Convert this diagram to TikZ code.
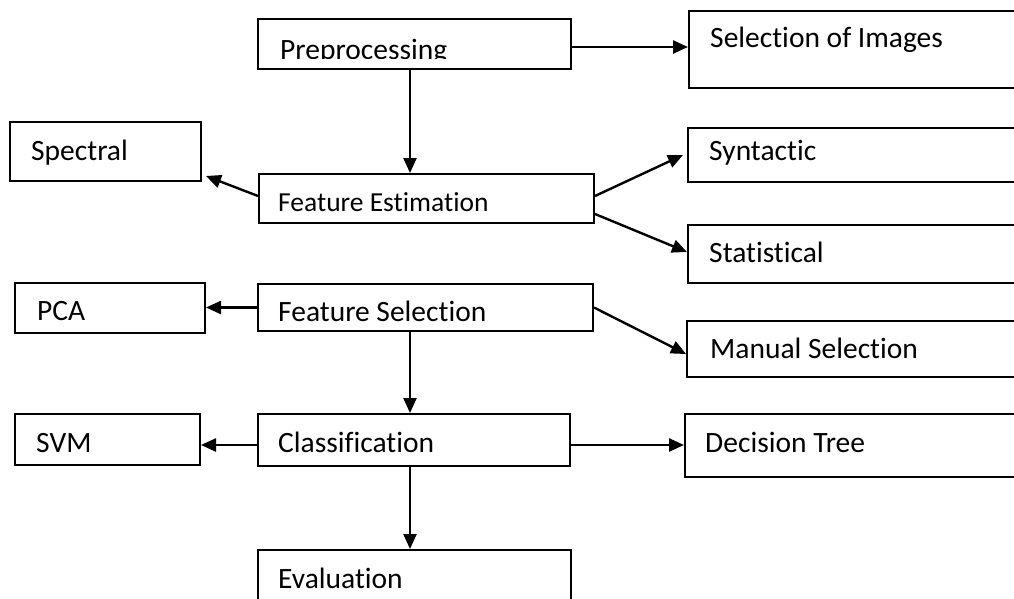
\documentclass[tikz,border=0pt]{standalone}
\usepackage{fontspec}
\setmainfont{Carlito}[RawFeature={-liga;-clig;-calt;-dlig}]
\usetikzlibrary{arrows.meta}
\tikzset{
  box/.style={draw=black, line width=2pt, rectangle, inner sep=0pt, anchor=north west},
  lbl/.style={anchor=base west, inner sep=0pt, font=\fontsize{29.5}{34}\selectfont},
  lblsmall/.style={anchor=base west, inner sep=0pt, font=\fontsize{27.5}{32}\selectfont},
  arr/.style={line width=2.4pt, -{Triangle[length=15pt,width=13pt]}}
}
\begin{document}
\begin{tikzpicture}[x=1pt, y=-1pt]
\clip (0,0) rectangle (1014,599);
\fill[white] (0,0) rectangle (1014,599);
% boxes
\node[box, minimum width=313pt, minimum height=50pt] (pre) at (257,18) {};
\node[box, minimum width=330pt, minimum height=77pt] (sel) at (688,10) {};
\node[box, minimum width=191pt, minimum height=59pt] (spec) at (9,121) {};
\node[box, minimum width=335pt, minimum height=49pt] (fe) at (258,173) {};
\node[box, minimum width=330pt, minimum height=54pt] (syn) at (687,127) {};
\node[box, minimum width=330pt, minimum height=58pt] (stat) at (687,224) {};
\node[box, minimum width=190pt, minimum height=50pt] (pca) at (14,282) {};
\node[box, minimum width=335pt, minimum height=47pt] (fs) at (257,283) {};
\node[box, minimum width=331pt, minimum height=56pt] (man) at (686,320) {};
\node[box, minimum width=185pt, minimum height=51pt] (svm) at (14,413) {};
\node[box, minimum width=312pt, minimum height=52pt] (cls) at (257,413) {};
\node[box, minimum width=333pt, minimum height=63pt] (dt) at (684,413) {};
\node[box, minimum width=313pt, minimum height=60pt] (ev) at (257,549) {};
% texts
\begin{scope}
\clip (257,18) rectangle (570,58.5);
\node[lbl] (tpre) at (280,59.5) {Preprocessing};
\end{scope}
\node[lbl] (tsel) at (710,48) {Selection of Images};
\node[lbl] (tspec) at (31,160) {Spectral};
\node[lblsmall] (tfe) at (278,211) {Feature Estimation};
\node[lbl] (tsyn) at (709,160) {Syntactic};
\node[lbl] (tstat) at (709,262) {Statistical};
\node[lbl] (tpca) at (37,320) {PCA};
\node[lbl] (tfs) at (278,321) {Feature Selection};
\node[lbl] (tman) at (710,358) {Manual Selection};
\node[lbl] (tsvm) at (36,452) {SVM};
\node[lbl] (tcls) at (278,452) {Classification};
\node[lbl] (tdt) at (705,452) {Decision Tree};
\node[lbl] (tev) at (278,588) {Evaluation};
% connectors
\draw[arr] ([yshift=-3pt]pre.east) coordinate (a1) -- (a1 -| sel.west);
\draw[arr] ([xshift=-4.5pt]pre.south) coordinate (a2) -- (a2 |- fe.north);
\draw[arr] ([yshift=2.5pt]fe.west) -- ([xshift=4pt,yshift=6pt]spec.south east);
\draw[arr] ([yshift=2.5pt]fe.east) -- ([xshift=-4pt]syn.west);
\draw[arr] ([yshift=-15.5pt]fe.east) -- ([yshift=2pt]stat.west);
\draw[arr] (fs.west) coordinate (a3) -- (a3 -| pca.east);
\draw[arr] (fs.east) -- ([yshift=-5pt]man.west);
\draw[arr] ([xshift=-15.5pt]fs.south) coordinate (a4) -- (a4 |- cls.north);
\draw[arr] ([yshift=-5pt]cls.west) coordinate (a5) -- (a5 -| svm.east);
\draw[arr] ([yshift=-5pt]cls.east) coordinate (a6) -- (a6 -| dt.west);
\draw[arr] ([xshift=-4pt]cls.south) coordinate (a7) -- (a7 |- ev.north);
\end{tikzpicture}
\end{document}
